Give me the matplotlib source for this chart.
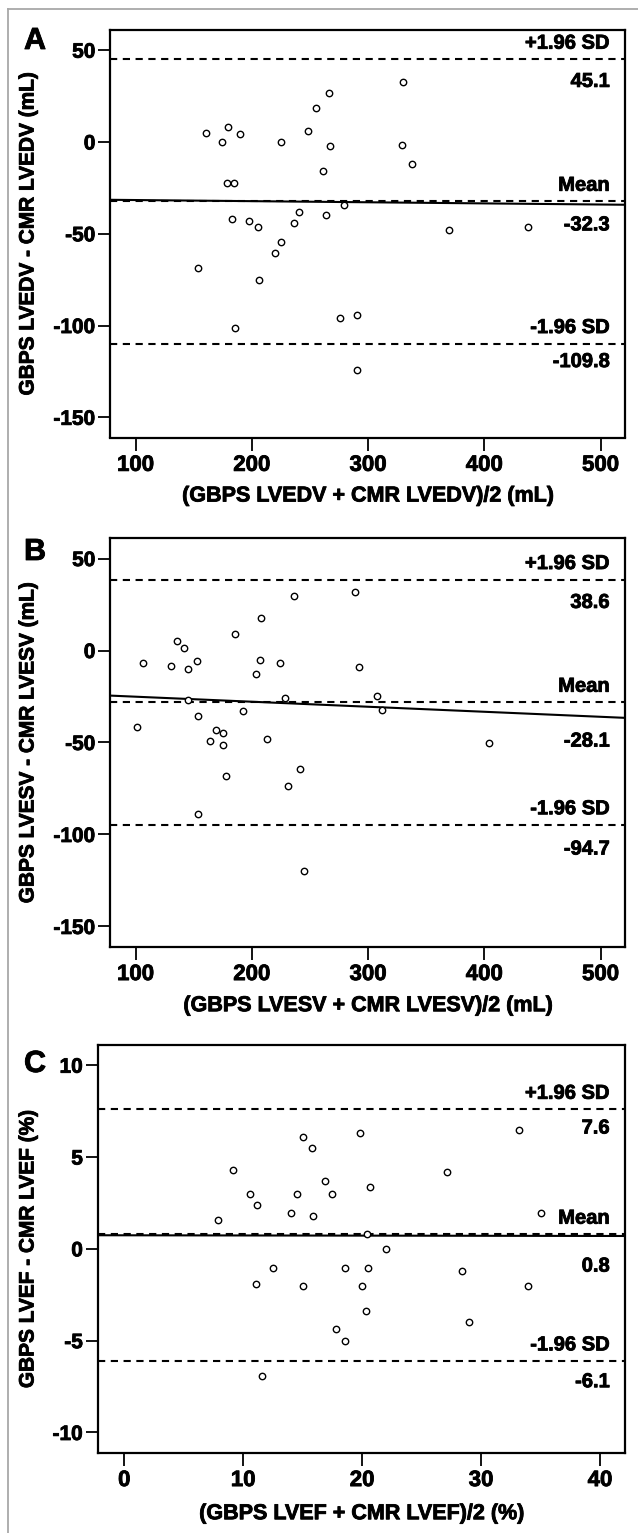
import matplotlib
matplotlib.use("Agg")
import matplotlib.pyplot as plt
from matplotlib.lines import Line2D
import matplotlib.patheffects as pe

plt.rcParams['font.family'] = ['Liberation Sans', 'DejaVu Sans']
plt.rcParams['font.weight'] = 'bold'
plt.rcParams['lines.scale_dashes'] = False

# ---------------- Data ----------------
# Panel A: LVEDV
a_mean_x = [160.2, 174.2, 179.5, 189.6, 225.0, 248.1, 255.1, 266.3, 267.0, 261.0,
            330.4, 329.3, 338.1, 178.4, 184.3, 278.9, 183.0, 197.7, 205.4, 240.8,
            236.2, 263.9, 370.0, 437.5, 224.7, 219.7, 153.9, 206.1, 185.1, 276.2,
            290.4, 290.4]
a_diff_y = [5.1, 0.0, 8.3, 4.5, 0.0, 5.8, 18.7, 26.5, -2.3, -16.0,
            32.4, -1.4, -12.0, -22.1, -22.5, -34.2, -41.9, -42.8, -46.4, -38.0,
            -44.3, -40.0, -47.7, -46.4, -54.7, -60.6, -68.7, -75.4, -101.3, -95.7,
            -94.5, -124.4]
a_limits = [45.1, -32.3, -109.8]          # +1.96 SD, mean, -1.96 SD
a_fit = [-31.5, -34.2]                     # regression line at x-limits

# Panel B: LVESV
b_mean_x = [106.6, 130.5, 135.7, 142.0, 145.2, 153.2, 185.4, 208.2, 236.6, 288.8,
            206.8, 203.7, 224.3, 292.2, 145.5, 228.2, 307.3, 312.2, 192.4, 153.9,
            101.4, 169.6, 175.6, 164.4, 175.3, 212.7, 403.6, 177.7, 231.0, 241.5,
            153.6, 245.3]
b_diff_y = [-7.0, -8.3, 5.2, 1.6, -9.9, -5.9, 9.0, 17.7, 29.4, 31.8,
            -4.9, -13.0, -7.0, -8.8, -27.1, -26.0, -24.9, -32.6, -33.0, -35.5,
            -41.7, -43.1, -44.7, -49.0, -51.6, -48.3, -50.1, -68.2, -73.6, -64.2,
            -89.1, -119.6]
b_limits = [38.6, -28.1, -94.7]
b_fit = [-24.5, -36.6]

# Panel C: LVEF
c_mean_x = [7.84, 9.15, 10.59, 11.2, 14.0, 14.5, 15.04, 15.76, 15.89, 16.85,
            17.5, 19.84, 20.69, 20.41, 21.99, 27.13, 33.2, 35.0, 12.54, 18.53,
            20.48, 28.4, 11.06, 15.0, 20.0, 33.98, 20.3, 29.0, 17.81, 18.53,
            11.57]
c_diff_y = [1.59, 4.28, 2.99, 2.39, 1.97, 2.99, 6.07, 5.47, 1.77, 3.68,
            2.99, 6.29, 3.39, 0.82, 0.0, 4.19, 6.47, 1.97, -1.02, -1.02,
            -1.02, -1.22, -1.9, -2.0, -2.0, -2.0, -3.4, -4.01, -4.39, -5.0,
            -6.9]
c_limits = [7.6, 0.8, -6.1]
c_fit = [0.74, 0.70]

a_xticks = [100, 200, 300, 400, 500]
a_yticks = [50, 0, -50, -100, -150]
c_xticks = [0, 10, 20, 30, 40]
c_yticks = [10, 5, 0, -5, -10]

limit_names = ['+1.96 SD', 'Mean', '-1.96 SD']

# ---------------- Figure ----------------
W, H = 638, 1533
fig = plt.figure(figsize=(W / 100, H / 100), dpi=100)
fig.patch.set_facecolor('white')

fig.add_artist(Line2D([8 / W, 8 / W], [0, 1 - 9 / H], transform=fig.transFigure,
                      color='#a8a8a8', lw=1.3))
fig.add_artist(Line2D([8 / W, 1], [1 - 9 / H, 1 - 9 / H], transform=fig.transFigure,
                      color='#a8a8a8', lw=1.3))

heavy = [pe.withStroke(linewidth=0.6, foreground='black')]


def px_axes(left, top, right, bottom):
    return fig.add_axes([left / W, 1 - bottom / H, (right - left) / W, (bottom - top) / H])


panels = [
    dict(box=(110, 30, 625, 437.5), x=a_mean_x, y=a_diff_y, lim=a_limits, fit=a_fit,
         xlim=(78, 521), ylim=(-161, 61), xt=a_xticks, yt=a_yticks,
         xlabel='(GBPS LVEDV + CMR LVEDV)/2 (mL)', ylabel='GBPS LVEDV - CMR LVEDV (mL)',
         letter='A', letter_top=26, val_off=[-16, -17, -13], xl_off=58.5),
    dict(box=(110, 538.3, 625, 946.7), x=b_mean_x, y=b_diff_y, lim=b_limits, fit=b_fit,
         xlim=(78, 521), ylim=(-161, 61), xt=a_xticks, yt=a_yticks,
         xlabel='(GBPS LVESV + CMR LVESV)/2 (mL)', ylabel='GBPS LVESV - CMR LVESV (mL)',
         letter='B', letter_top=537, val_off=[-16.5, -28, -17.5], xl_off=59),
    dict(box=(97.5, 1045, 625, 1452.7), x=c_mean_x, y=c_diff_y, lim=c_limits, fit=c_fit,
         xlim=(-2.25, 42.1), ylim=(-11.1, 11.1), xt=c_xticks, yt=c_yticks,
         xlabel='(GBPS LVEF + CMR LVEF)/2 (%)', ylabel='GBPS LVEF - CMR LVEF (%)',
         letter='C', letter_top=1049, val_off=[-13.5, -23, -15], xl_off=61),
]

for p in panels:
    l, t, r, b = p['box']
    ax = px_axes(l, t, r, b)
    ax.set_xlim(*p['xlim'])
    ax.set_ylim(*p['ylim'])
    for s in ax.spines.values():
        s.set_linewidth(1.6)
        s.set_color('black')

    for yv in p['lim']:
        ax.axhline(yv, color='black', lw=1.5, dashes=(5.2, 4.0), zorder=2)
    ax.plot(p['xlim'], p['fit'], color='black', lw=1.5, solid_capstyle='butt', zorder=3)
    ax.plot(p['x'], p['y'], linestyle='none', marker='o', ms=4.6, mfc='white',
            mec='black', mew=1.0, zorder=4)

    for name, yv, vo in zip(limit_names, p['lim'], p['val_off']):
        ax.annotate(name, xy=(1, yv), xycoords=('axes fraction', 'data'),
                    xytext=(-11, 11.5), textcoords='offset points',
                    ha='right', va='center', fontsize=14.5, fontweight='bold',
                    path_effects=heavy)
        ax.annotate('{:.1f}'.format(yv), xy=(1, yv), xycoords=('axes fraction', 'data'),
                    xytext=(-11, vo), textcoords='offset points',
                    ha='right', va='center', fontsize=14.5, fontweight='bold',
                    path_effects=heavy)

    ax.set_xticks(p['xt'])
    ax.set_yticks(p['yt'])
    ax.set_xticklabels([str(v) for v in p['xt']])
    ax.set_yticklabels([str(v) for v in p['yt']])
    ax.tick_params(axis='x', direction='out', length=9, width=1.3, pad=3.5,
                   labelsize=16)
    ax.tick_params(axis='y', direction='out', length=9, width=1.3, pad=1.5,
                   labelsize=15)
    for lab in ax.get_xticklabels() + ax.get_yticklabels():
        lab.set_fontweight('bold')
        lab.set_path_effects(heavy)

    cx = (l + r) / 2
    fig.text(cx / W, 1 - (b + p['xl_off']) / H, p['xlabel'], ha='center', va='center',
             fontsize=15.5, fontweight='bold', path_effects=heavy)
    fig.text(28 / W, 1 - ((t + b) / 2) / H, p['ylabel'], ha='center', va='center',
             rotation=90, fontsize=15, fontweight='bold', path_effects=heavy)
    fig.text(24 / W, 1 - p['letter_top'] / H, p['letter'], ha='left', va='top',
             fontsize=22, fontweight='bold', path_effects=heavy)

fig.savefig('out.png', dpi=100, facecolor='white')
